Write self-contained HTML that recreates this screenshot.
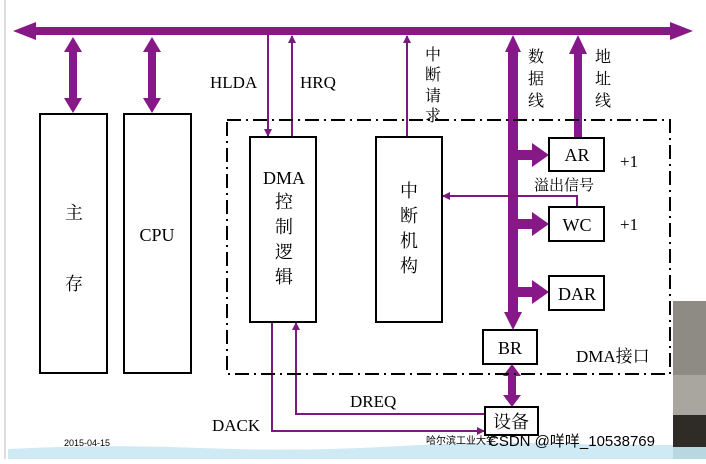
<!DOCTYPE html>
<html><head><meta charset="utf-8"><style>
html,body{margin:0;padding:0;background:#fff;}
svg text{font-family:"Liberation Serif","Noto Serif CJK SC",serif;fill:#000;}
</style></head><body>
<svg width="706" height="459" viewBox="0 0 706 459" xmlns="http://www.w3.org/2000/svg">
<defs>
<marker id="a" markerWidth="8" markerHeight="8" refX="7" refY="4" orient="auto" markerUnits="userSpaceOnUse"><path d="M0,0 L8,4 L0,8 z" fill="#7b1a7e"/></marker>
</defs>
<rect width="706" height="459" fill="#fff"/>
<line x1="5" y1="0" x2="5" y2="459" stroke="#ddd" stroke-width="2"/>
<g fill="#861887">
<polygon points="13,31 36,22 36,27 670,27 670,22 693,31 670,40 670,35 36,35 36,40"/>
<polygon points="73,37 82,52 77,52 77,98 82,98 73,113 64,98 69,98 69,52 64,52"/>
<polygon points="152,37 161,52 156,52 156,98 161,98 152,113 143,98 148,98 148,52 143,52"/>
<polygon points="513,35 521,52 518,52 518,312 522,312 513,330 504,312 508,312 508,52 505,52"/>
<rect x="518" y="150" width="16" height="10"/><polygon points="532,143 549,155 532,167"/>
<rect x="518" y="219" width="16" height="10"/><polygon points="532,212 549,224 532,236"/>
<rect x="518" y="287" width="16" height="10"/><polygon points="532,280 549,292 532,304"/>
<polygon points="578,35 587,54 582,54 582,137 574,137 574,54 569,54"/>
<polygon points="512,364 521,376 516,376 516,395 521,395 512,407 503,395 508,395 508,376 503,376"/>
</g>
<g stroke="#7b1a7e" stroke-width="2" fill="none">
<line x1="268" y1="35" x2="268" y2="136" marker-end="url(#a)"/>
<line x1="292" y1="137" x2="292" y2="36" marker-end="url(#a)"/>
<line x1="407" y1="137" x2="407" y2="36" marker-end="url(#a)"/>
<polyline points="577,206 577,196 443,196" marker-end="url(#a)"/>
<polyline points="485,414 296,414 296,323" marker-end="url(#a)"/>
<polyline points="272,322 272,431 484,431" marker-end="url(#a)"/>
</g>
<rect x="227" y="120" width="443" height="254" fill="none" stroke="#000" stroke-width="2" stroke-dasharray="14,5,2,5"/>
<g fill="#fff" stroke="#000" stroke-width="2">
<rect x="40" y="114" width="67" height="259"/>
<rect x="124" y="114" width="67" height="259"/>
<rect x="250" y="137" width="66" height="185"/>
<rect x="376" y="137" width="66" height="185"/>
<rect x="549" y="138" width="55" height="33"/>
<rect x="549" y="207" width="55" height="34"/>
<rect x="549" y="276" width="55" height="34"/>
<rect x="483" y="330" width="54" height="34"/>
<rect x="485" y="407" width="53" height="28"/>
</g>
<g font-size="18" text-anchor="middle">
<text x="74" y="219">主</text><text x="74" y="290">存</text>
<text x="157" y="241">CPU</text>
<text x="284" y="184">DMA</text>
<text x="284" y="208">控</text><text x="284" y="233">制</text><text x="284" y="258">逻</text><text x="284" y="283">辑</text>
<text x="409" y="197">中</text><text x="409" y="222">断</text><text x="409" y="247">机</text><text x="409" y="272">构</text>
<text x="577" y="161">AR</text>
<text x="577" y="231">WC</text>
<text x="577" y="300">DAR</text>
<text x="510" y="354">BR</text>
<text x="511" y="428">设备</text>
</g>
<g font-size="17">
<text x="210" y="88">HLDA</text>
<text x="300" y="88">HRQ</text>
<text x="620" y="167">+1</text>
<text x="620" y="230">+1</text>
<text x="576" y="362">DMA接口</text>
<text x="350" y="407">DREQ</text>
<text x="212" y="431">DACK</text>
</g>
<g font-size="16">
<text x="425" y="60">中</text><text x="425" y="80">断</text><text x="425" y="101">请</text><text x="425" y="121">求</text>
<text x="528" y="62">数</text><text x="528" y="84">据</text><text x="528" y="106">线</text>
<text x="595" y="62">地</text><text x="595" y="84">址</text><text x="595" y="106">线</text>
<text x="534" y="190" font-size="15" fill="#333">溢出信号</text>
</g>
<path d="M8,449 Q100,444 200,448 T400,446 T600,445 L706,445 L706,459 L8,459 z" fill="#cfeaf5"/>
<text x="64" y="446" font-size="9" style="font-family:'Liberation Sans',sans-serif" fill="#888">2015-04-15</text>
<text x="426" y="444" font-size="10" style="font-family:'Liberation Sans','Noto Sans CJK SC',sans-serif" fill="#aaa">哈尔滨工业大学</text>
<text x="488" y="446" font-size="15" style="font-family:'Liberation Sans','Noto Sans CJK SC',sans-serif" fill="#999">CSDN @咩咩_10538769</text>
<rect x="673" y="301" width="33" height="158" fill="#8e8a84"/>
<rect x="673" y="375" width="33" height="40" fill="#a9a59f"/>
<rect x="673" y="415" width="33" height="32" fill="#2f2b26"/>
<rect x="673" y="447" width="33" height="12" fill="#b9d7df"/>
</svg>
</body></html>
